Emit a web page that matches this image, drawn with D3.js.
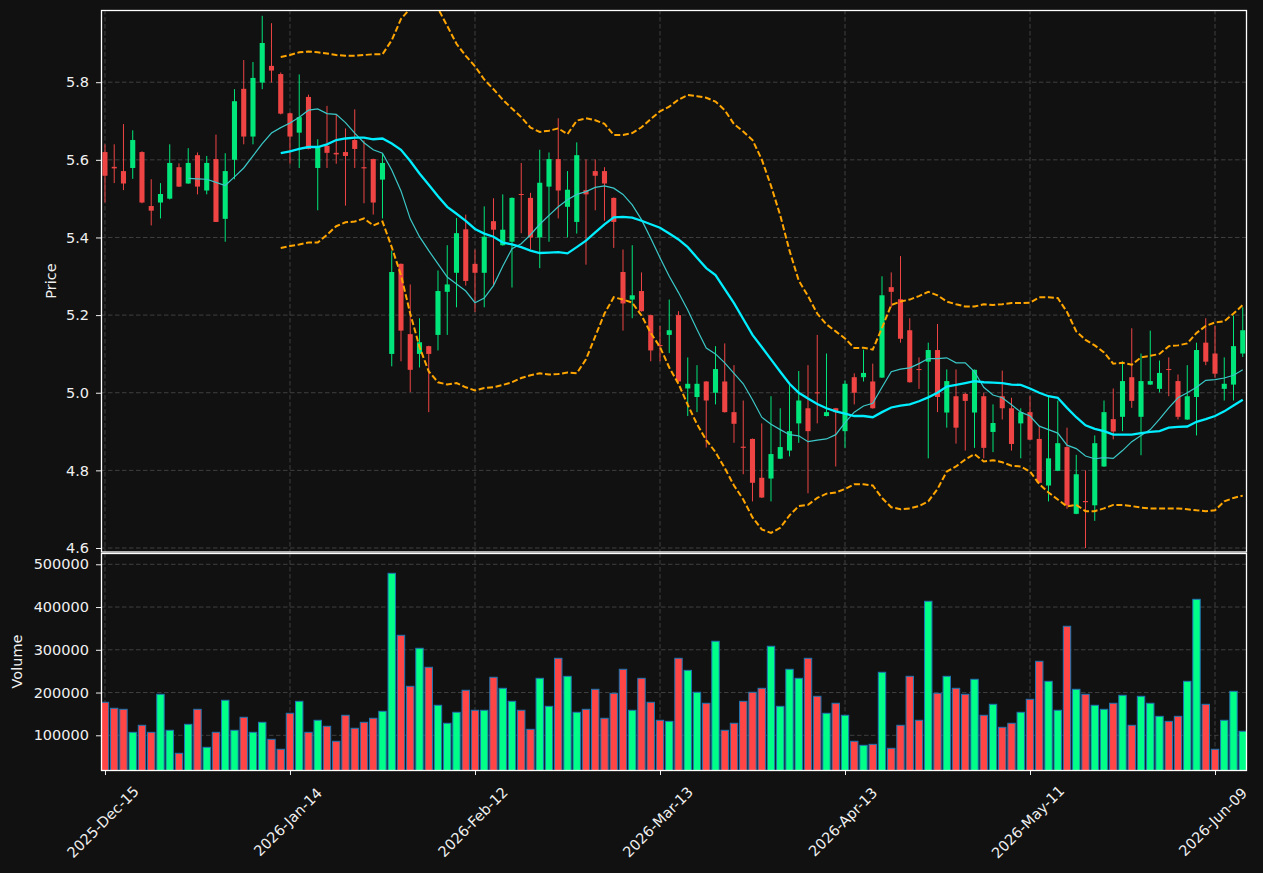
<!DOCTYPE html>
<html>
<head>
<meta charset="utf-8">
<script src="https://cdn.jsdelivr.net/npm/d3@7.9.0/dist/d3.min.js"></script>
<style>
  body { margin: 0; background: #111111; }
  svg { display: block; font-family: "DejaVu Sans", sans-serif; }
</style>
</head>
<body>
<svg id="chart" width="1263" height="873"></svg>
<script>
// ---- data, one entry per trading day ----
const opens = [5.620,5.582,5.571,5.579,5.620,5.481,5.490,5.500,5.581,5.539,5.612,5.521,5.602,5.448,5.600,5.783,5.660,5.799,5.842,5.821,
  5.720,5.670,5.762,5.579,5.636,5.618,5.620,5.651,5.581,5.602,5.549,5.100,5.332,5.151,5.100,5.120,5.149,5.260,5.309,5.421,
  5.332,5.309,5.442,5.380,5.389,5.512,5.502,5.400,5.531,5.602,5.479,5.440,5.522,5.571,5.571,5.502,5.311,5.240,5.262,5.200,
  5.123,5.149,5.200,5.011,4.989,5.029,5.000,5.029,4.950,4.861,4.881,4.781,4.779,4.830,4.851,4.921,4.960,5.001,4.940,4.960,
  4.901,5.040,5.040,5.029,5.039,5.272,5.241,5.161,5.061,5.080,5.110,4.949,4.991,4.997,4.949,4.991,4.899,4.991,4.960,4.921,
  4.950,4.881,4.761,4.799,4.860,4.688,4.721,4.710,4.810,4.932,4.938,5.040,4.938,5.021,5.010,5.061,5.030,4.931,4.989,5.129,
  5.101,5.010,5.021,5.101];
const highs = [5.640,5.640,5.692,5.676,5.622,5.550,5.540,5.640,5.591,5.630,5.619,5.610,5.665,5.617,5.782,5.857,5.852,5.971,5.952,5.825,
  5.722,5.820,5.768,5.653,5.739,5.716,5.681,5.730,5.650,5.603,5.617,5.366,5.333,5.279,5.192,5.121,5.315,5.380,5.450,5.459,
  5.369,5.480,5.501,5.511,5.503,5.592,5.515,5.626,5.619,5.707,5.571,5.645,5.601,5.601,5.581,5.503,5.369,5.380,5.310,5.201,
  5.172,5.240,5.210,5.091,5.071,5.030,5.120,5.127,5.071,4.980,4.882,4.921,4.991,4.960,5.023,5.056,5.071,5.149,5.101,4.961,
  5.032,5.050,5.111,5.075,5.300,5.310,5.352,5.192,5.091,5.129,5.177,5.060,5.060,5.000,5.060,5.000,4.970,5.057,4.987,4.960,
  4.991,4.914,4.991,4.980,4.910,4.840,4.800,4.890,4.980,5.011,5.081,5.166,5.101,5.160,5.083,5.091,5.047,5.071,5.129,5.192,
  5.172,5.091,5.199,5.220];
const lows = [5.490,5.540,5.522,5.551,5.488,5.431,5.449,5.498,5.530,5.538,5.511,5.511,5.440,5.389,5.550,5.640,5.640,5.782,5.799,5.717,
  5.590,5.579,5.627,5.470,5.579,5.590,5.482,5.579,5.488,5.459,5.449,5.068,5.081,5.002,5.065,4.950,5.109,5.149,5.220,5.276,
  5.208,5.220,5.276,5.379,5.271,5.411,5.369,5.321,5.389,5.449,5.400,5.410,5.330,5.470,5.443,5.373,5.160,5.192,5.209,5.081,
  5.081,5.102,5.028,4.940,4.950,4.859,4.970,4.949,4.871,4.790,4.720,4.729,4.720,4.829,4.836,4.871,4.741,4.921,4.939,4.810,
  4.858,4.970,5.029,4.959,5.038,5.220,5.129,5.026,5.010,4.831,4.950,4.910,4.869,4.851,4.858,4.831,4.847,4.931,4.851,4.831,
  4.878,4.767,4.720,4.798,4.701,4.687,4.600,4.670,4.809,4.880,4.901,4.961,4.839,5.020,5.001,4.991,4.931,4.930,4.890,5.071,
  5.039,4.980,4.980,5.092];
const closes = [5.559,5.578,5.539,5.651,5.490,5.469,5.512,5.592,5.531,5.592,5.531,5.592,5.440,5.571,5.751,5.660,5.811,5.901,5.830,5.719,
  5.660,5.710,5.628,5.633,5.618,5.614,5.610,5.628,5.578,5.490,5.592,5.311,5.160,5.059,5.130,5.100,5.262,5.279,5.411,5.288,
  5.309,5.402,5.420,5.420,5.502,5.510,5.400,5.541,5.602,5.521,5.523,5.612,5.511,5.559,5.539,5.440,5.230,5.251,5.210,5.109,
  5.120,5.161,5.029,5.023,5.023,4.980,5.061,4.950,4.920,4.858,4.768,4.730,4.842,4.860,4.901,4.980,4.901,4.999,4.950,4.950,
  5.023,5.000,5.051,4.960,5.251,5.260,5.139,5.027,5.059,5.110,4.989,5.030,4.910,4.979,5.059,4.858,4.922,4.960,4.868,4.950,
  4.879,4.768,4.831,4.870,4.710,4.790,4.718,4.870,4.950,4.900,5.030,4.979,5.030,5.030,5.051,5.059,4.938,4.991,5.110,5.080,
  5.049,5.023,5.120,5.161];
const volumes = [177200,163200,160800,107000,123400,107000,195900,111700,57900,125700,160800,71900,107000,181900,111700,142100,107000,130400,90600,67300,
  151500,179500,107000,135100,121100,86000,146800,116400,130400,139800,156100,478900,333900,214600,303500,259100,170200,128100,153800,205300,
  158500,158500,235700,209900,179500,158500,114000,233300,167800,280100,238000,153800,160800,207600,139800,198200,254400,158500,233300,177200,
  135100,132700,280100,252000,200600,174900,319900,111700,128100,179500,200600,209900,308200,167800,254400,233300,280100,191200,151500,174900,
  146800,86000,76600,78900,247400,69600,123400,238000,135100,413500,198200,238000,209900,195900,231000,146800,172500,118700,128100,153800,
  184200,273100,226300,158500,355000,207600,195900,170200,160800,174900,193600,123400,191200,174900,144400,132700,144400,226300,418100,172500,
  67300,135100,202900,109400];

// short moving average (thin line), first value at day 9
const smaShortStart = 9;
const smaShort = [5.552,5.551,5.550,5.542,5.534,5.556,5.579,5.610,5.642,5.669,5.683,5.695,5.710,5.728,5.731,5.719,5.717,5.696,5.669,5.644,
  5.626,5.617,5.574,5.520,5.448,5.402,5.366,5.332,5.298,5.280,5.262,5.232,5.244,5.276,5.326,5.371,5.384,5.407,5.434,5.457,
  5.479,5.497,5.511,5.518,5.529,5.533,5.527,5.511,5.484,5.446,5.398,5.348,5.300,5.258,5.213,5.163,5.115,5.100,5.077,5.050,
  5.023,4.982,4.937,4.919,4.905,4.892,4.889,4.874,4.878,4.881,4.892,4.923,4.950,4.966,4.973,5.014,5.054,5.061,5.064,5.075,
  5.088,5.088,5.090,5.077,5.077,5.054,5.014,4.994,4.987,4.969,4.950,4.940,4.914,4.905,4.896,4.865,4.856,4.837,4.830,4.833,
  4.831,4.851,4.874,4.890,4.905,4.932,4.961,4.987,5.000,5.014,5.032,5.034,5.038,5.045,5.059];

// long moving average and bands, first value at day 19
const bandStart = 19;
const smaLong = [5.617,5.622,5.628,5.633,5.633,5.640,5.651,5.655,5.657,5.657,5.653,5.655,5.642,5.626,5.597,5.565,5.536,5.506,5.479,5.461,
  5.443,5.422,5.410,5.402,5.387,5.382,5.375,5.366,5.360,5.361,5.362,5.359,5.375,5.392,5.413,5.434,5.452,5.453,5.451,5.443,
  5.434,5.425,5.410,5.395,5.375,5.348,5.321,5.303,5.267,5.231,5.190,5.149,5.118,5.086,5.054,5.023,5.000,4.985,4.971,4.960,
  4.952,4.946,4.940,4.940,4.937,4.950,4.962,4.967,4.970,4.978,4.988,5.000,5.016,5.020,5.025,5.030,5.027,5.026,5.025,5.021,
  5.020,5.011,5.000,4.991,4.987,4.961,4.937,4.916,4.907,4.901,4.892,4.892,4.892,4.896,4.899,4.901,4.910,4.912,4.913,4.925,
  4.932,4.940,4.952,4.967,4.982];
const upperBand = [5.865,5.870,5.877,5.879,5.877,5.874,5.870,5.868,5.868,5.870,5.872,5.872,5.908,5.963,5.990,6.012,6.022,5.990,5.945,5.899,
  5.868,5.841,5.807,5.782,5.755,5.732,5.710,5.683,5.672,5.675,5.681,5.666,5.701,5.707,5.702,5.693,5.664,5.664,5.669,5.684,
  5.705,5.725,5.737,5.755,5.767,5.764,5.760,5.750,5.728,5.692,5.673,5.651,5.601,5.533,5.457,5.366,5.289,5.249,5.204,5.176,
  5.158,5.140,5.115,5.116,5.111,5.167,5.226,5.235,5.240,5.249,5.260,5.251,5.235,5.228,5.222,5.222,5.228,5.226,5.228,5.231,
  5.231,5.232,5.246,5.246,5.244,5.208,5.158,5.136,5.122,5.104,5.075,5.077,5.072,5.091,5.095,5.100,5.120,5.122,5.127,5.154,
  5.172,5.181,5.184,5.204,5.226];
const lowerBand = [5.373,5.378,5.382,5.387,5.387,5.407,5.429,5.439,5.441,5.449,5.431,5.441,5.375,5.303,5.204,5.118,5.055,5.027,5.021,5.025,
  5.014,5.006,5.012,5.014,5.020,5.027,5.038,5.045,5.050,5.047,5.048,5.052,5.050,5.086,5.145,5.204,5.246,5.240,5.232,5.199,
  5.154,5.118,5.065,5.023,4.969,4.919,4.878,4.847,4.806,4.761,4.725,4.679,4.648,4.639,4.652,4.684,4.708,4.711,4.729,4.740,
  4.743,4.752,4.764,4.764,4.761,4.729,4.705,4.700,4.702,4.708,4.720,4.752,4.797,4.810,4.828,4.842,4.823,4.826,4.821,4.812,
  4.810,4.797,4.765,4.743,4.725,4.707,4.711,4.695,4.695,4.702,4.711,4.711,4.708,4.704,4.702,4.702,4.702,4.702,4.700,4.697,
  4.695,4.697,4.720,4.729,4.735];

const dateTickIdx = [0, 20, 40, 60, 80, 100, 120];
const dateTickLabels = ['2025-Dec-15','2026-Jan-14','2026-Feb-12','2026-Mar-13','2026-Apr-13','2026-May-11','2026-Jun-09'];
const priceTicks = [4.6, 4.8, 5.0, 5.2, 5.4, 5.6, 5.8];
const volumeTicks = [100000, 200000, 300000, 400000, 500000];

// ---- layout ----
const upColor = '#00e67a', downColor = '#ee4444';
const volUp = '#00ff88', volDown = '#ff4545';
const textColor = '#f0f0f0', gridColor = '#454545';
const P = { left: 101, right: 1246, top: 10, bottom: 552 };
const V = { top: 553, bottom: 770 };

const n = closes.length;
const x = d3.scaleLinear().domain([-0.43, n - 1 + 0.35]).range([P.left, P.right]);
const step = x(1) - x(0);
const y = d3.scaleLinear().domain([4.5897, 5.986]).range([P.bottom, P.top]);
const yv = d3.scaleLinear().domain([18830, 526400]).range([V.bottom, V.top]);

const svg = d3.select('#chart');
svg.append('rect').attr('width', 1263).attr('height', 873).attr('fill', '#111111');

const defs = svg.append('defs');
defs.append('clipPath').attr('id', 'clipP').append('rect')
  .attr('x', P.left).attr('y', P.top).attr('width', P.right - P.left).attr('height', P.bottom - P.top);
defs.append('clipPath').attr('id', 'clipV').append('rect')
  .attr('x', P.left).attr('y', V.top).attr('width', P.right - P.left).attr('height', V.bottom - V.top);

// gridlines
const grid = svg.append('g').attr('stroke', gridColor).attr('stroke-width', 0.9).attr('stroke-dasharray', '4.5,2.5');
grid.selectAll('.gp').data(priceTicks).join('line')
  .attr('x1', P.left).attr('x2', P.right).attr('y1', d => y(d)).attr('y2', d => y(d));
grid.selectAll('.gv').data(volumeTicks).join('line')
  .attr('x1', P.left).attr('x2', P.right).attr('y1', d => yv(d)).attr('y2', d => yv(d));
grid.selectAll('.gx').data(dateTickIdx).join('line')
  .attr('x1', d => x(d)).attr('x2', d => x(d)).attr('y1', P.top).attr('y2', P.bottom);
grid.selectAll('.gx2').data(dateTickIdx).join('line')
  .attr('x1', d => x(d)).attr('x2', d => x(d)).attr('y1', V.top).attr('y2', V.bottom);

// candles
const days = d3.range(n);
const candles = svg.append('g').attr('clip-path', 'url(#clipP)');
const isUp = i => closes[i] >= opens[i];
candles.selectAll('line').data(days).join('line')
  .attr('x1', i => x(i)).attr('x2', i => x(i))
  .attr('y1', i => y(highs[i])).attr('y2', i => y(lows[i]))
  .attr('stroke', i => isUp(i) ? upColor : downColor).attr('stroke-width', 1);
const bw = step * 0.55;
candles.selectAll('rect').data(days).join('rect')
  .attr('x', i => x(i) - bw / 2).attr('width', bw)
  .attr('y', i => y(Math.max(opens[i], closes[i])))
  .attr('height', i => Math.max(1, Math.abs(y(opens[i]) - y(closes[i]))))
  .attr('fill', i => isUp(i) ? upColor : downColor);

// overlay lines
const lines = svg.append('g').attr('clip-path', 'url(#clipP)').attr('fill', 'none');
const lineFrom = start => d3.line().x((d, k) => x(start + k)).y(d => y(d));
lines.append('path').attr('d', lineFrom(smaShortStart)(smaShort))
  .attr('stroke', '#3cc8c8').attr('stroke-width', 1.2);
lines.append('path').attr('d', lineFrom(bandStart)(smaLong))
  .attr('stroke', '#00eeff').attr('stroke-width', 2.3);
[upperBand, lowerBand].forEach(b => {
  lines.append('path').attr('d', lineFrom(bandStart)(b))
    .attr('stroke', '#ffa500').attr('stroke-width', 2).attr('stroke-dasharray', '6,2.6');
});

// volume bars
const vb = step * 0.8;
svg.append('g').attr('clip-path', 'url(#clipV)')
  .selectAll('rect').data(days).join('rect')
  .attr('x', i => x(i) - vb / 2).attr('width', vb)
  .attr('y', i => yv(volumes[i]))
  .attr('height', i => yv(0) - yv(volumes[i]))
  .attr('fill', i => isUp(i) ? volUp : volDown)
  .attr('stroke', '#1f77b4').attr('stroke-width', 1);

// axes
function styleAxis(g) {
  g.select('.domain').remove();
  g.selectAll('.tick line').attr('stroke', textColor);
  g.selectAll('.tick text').attr('fill', textColor).attr('font-size', '14.5px')
    .attr('font-family', '"DejaVu Sans", sans-serif');
}
svg.append('g').attr('transform', `translate(${P.left},0)`)
  .call(d3.axisLeft(y).tickValues(priceTicks).tickFormat(d3.format('.1f')).tickSize(5).tickPadding(7))
  .call(styleAxis);
svg.append('g').attr('transform', `translate(${P.left},0)`)
  .call(d3.axisLeft(yv).tickValues(volumeTicks).tickFormat(d3.format('d')).tickSize(5).tickPadding(7))
  .call(styleAxis);
svg.append('g').attr('transform', `translate(0,${V.bottom})`)
  .call(d3.axisBottom(x).tickValues(dateTickIdx).tickFormat('').tickSize(5))
  .call(styleAxis);
svg.append('g').selectAll('text').data(dateTickIdx).join('text')
  .attr('transform', d => `translate(${x(d) - 2},822) rotate(-45)`)
  .attr('text-anchor', 'middle').attr('dominant-baseline', 'central')
  .attr('fill', textColor).attr('font-size', '14.5px')
  .text((d, k) => dateTickLabels[k]);

// panel borders
const border = svg.append('g').attr('fill', 'none').attr('stroke', '#ffffff').attr('stroke-width', 1.3);
border.append('rect').attr('x', P.left + 0.5).attr('y', P.top + 0.5)
  .attr('width', P.right - P.left).attr('height', P.bottom - P.top - 0.5);
border.append('rect').attr('x', P.left + 0.5).attr('y', V.top + 0.5)
  .attr('width', P.right - P.left).attr('height', V.bottom - V.top);

// axis titles
svg.append('text').attr('transform', `translate(51,${(P.top + P.bottom) / 2}) rotate(-90)`)
  .attr('text-anchor', 'middle').attr('dy', '0.35em').attr('fill', textColor).attr('font-size', '14.5px').text('Price');
svg.append('text').attr('transform', `translate(17,${(V.top + V.bottom) / 2}) rotate(-90)`)
  .attr('text-anchor', 'middle').attr('dy', '0.35em').attr('fill', textColor).attr('font-size', '14.5px').text('Volume');
</script>
</body>
</html>
